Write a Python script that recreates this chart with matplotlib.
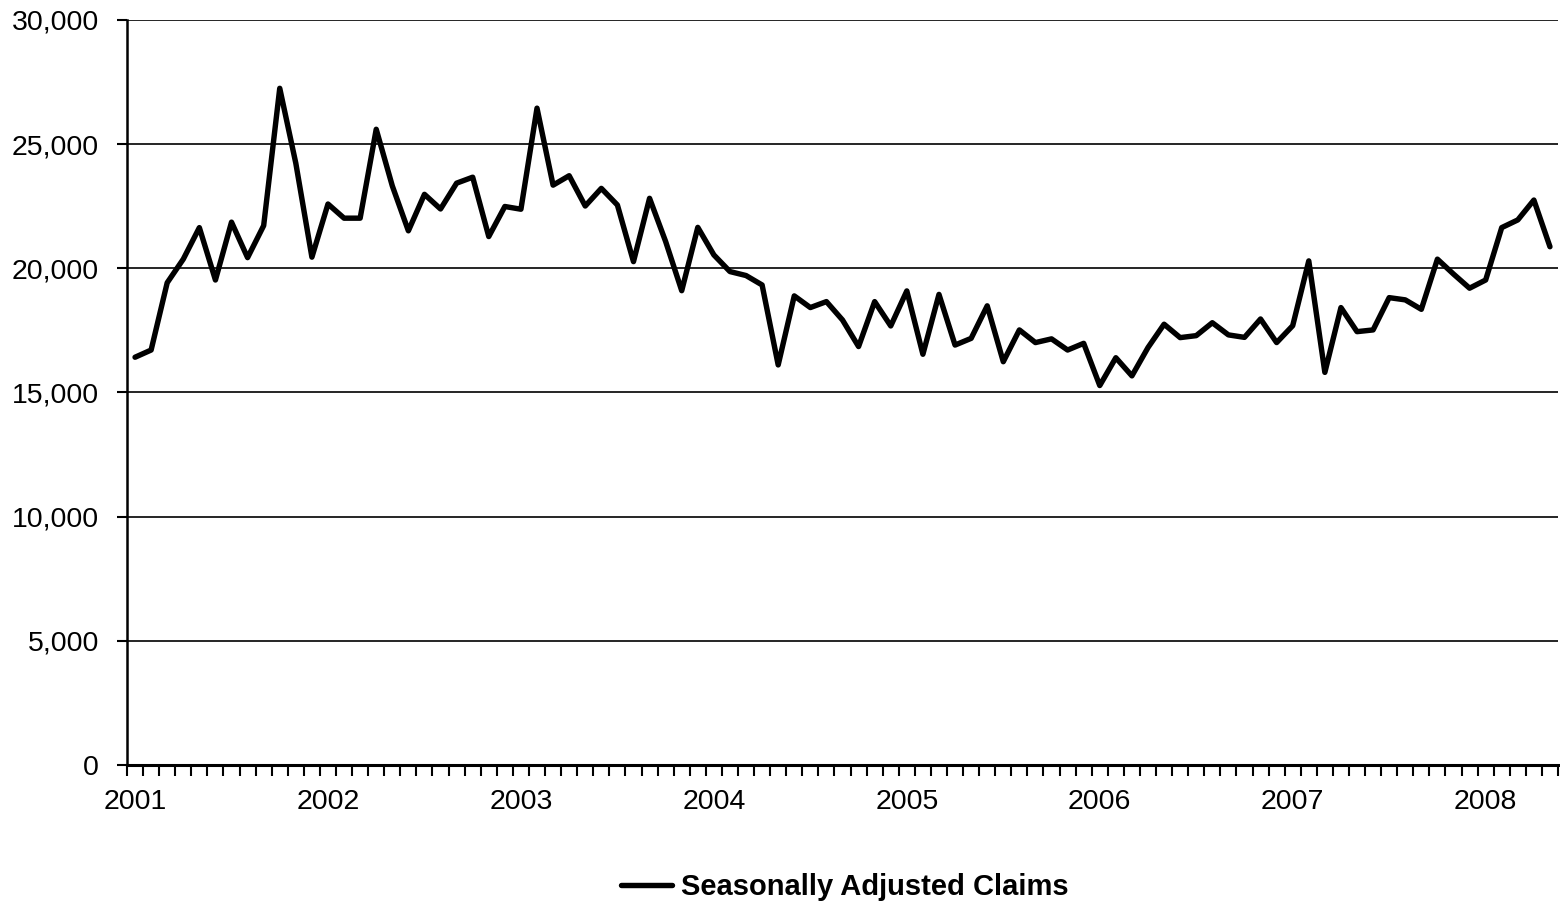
import matplotlib
matplotlib.use("Agg")
import matplotlib.pyplot as plt
from matplotlib.ticker import FuncFormatter, MultipleLocator, FixedLocator

years = ["2001", "2002", "2003", "2004", "2005", "2006", "2007", "2008"]
claims = [
    16420, 16710, 19420, 20370, 21640, 19530, 21860, 20430, 21720, 27250, 24230, 20450,
    22590, 22020, 22020, 25600, 23320, 21510, 22980, 22390, 23430, 23670, 21280, 22490,
    22380, 26450, 23350, 23730, 22510, 23220, 22550, 20270, 22820, 21080, 19100, 21650,
    20540, 19870, 19710, 19330, 16110, 18890, 18420, 18660, 17920, 16850, 18660, 17680,
    19090, 16540, 18950, 16910, 17180, 18490, 16240, 17520, 17010, 17160, 16710, 16980,
    15280, 16400, 15670, 16810, 17750, 17210, 17290, 17810, 17320, 17220, 17960, 17010,
    17690, 20300, 15810, 18420, 17450, 17520, 18820, 18730, 18350, 20370, 19770, 19200,
    19530, 21640, 21950, 22750, 20870,
]
series_name = "Seasonally Adjusted Claims"

font = ["Liberation Sans", "DejaVu Sans"]
plt.rcParams["font.family"] = font

fig = plt.figure(figsize=(15.6, 9.06), dpi=100)
ax = fig.add_axes([127 / 1560, 1 - 765 / 906, (1558 - 127) / 1560, (765 - 20) / 906])

x = list(range(len(claims)))
line, = ax.plot(x, claims, color="black", linewidth=3.9, solid_joinstyle="round",
                solid_capstyle="round", label=series_name, zorder=3)

ax.set_xlim(-0.5, len(claims) - 0.5)
ax.set_ylim(0, 30000)

ax.yaxis.set_major_locator(MultipleLocator(5000))
ax.yaxis.set_major_formatter(FuncFormatter(lambda v, p: f"{int(v):,}"))
ax.grid(axis="y", color="black", linewidth=1.2, zorder=1)
ax.set_axisbelow(True)

ax.xaxis.set_major_locator(FixedLocator([12 * i for i in range(len(years))]))
ax.set_xticklabels(years)
ax.xaxis.set_minor_locator(FixedLocator([k - 0.5 for k in range(len(claims) + 1)]))
ax.tick_params(axis="x", which="major", length=0, pad=17, labelsize=20.5)
ax.tick_params(axis="x", which="minor", length=8, width=1.5, direction="out")
ax.tick_params(axis="y", which="major", length=7, width=1.5, pad=13, labelsize=20.5)

for s in ["top", "right"]:
    ax.spines[s].set_visible(False)
ax.spines["left"].set_linewidth(1.8)
ax.spines["bottom"].set_linewidth(2.2)

fig.legend(handles=[line], loc="center", bbox_to_anchor=(845 / 1560, 1 - 887 / 906),
           frameon=False, prop={"weight": "bold", "size": 21, "family": font},
           handlelength=1.75, handletextpad=0.3)

fig.savefig("out.png", dpi=100)
